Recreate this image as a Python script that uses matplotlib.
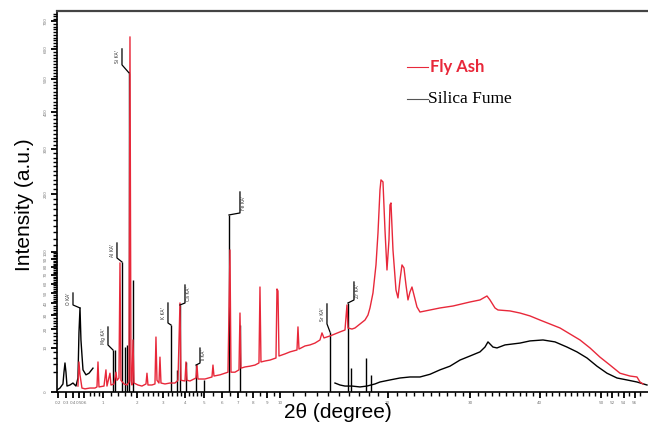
"""
XRD / EDS overlay: Fly Ash vs Silica Fume
"""
import numpy as np
import matplotlib
matplotlib.use('Agg')
import matplotlib.pyplot as plt
from matplotlib.lines import Line2D
from matplotlib.ticker import FixedLocator, FixedFormatter, NullFormatter
from matplotlib.transforms import IdentityTransform

# Fly Ash (red trace)
fa_x = [0.483, 0.500, 0.518, 0.553, 0.609, 0.708, 0.814, 0.859, 0.882, 0.905,
        1.025, 1.074, 1.100, 1.178, 1.205, 1.286, 1.342, 1.371, 1.428, 1.458,
        1.487, 1.578, 1.671, 1.735, 1.767, 1.800, 1.832, 1.866, 1.899, 2.036,
        2.177, 2.324, 2.361, 2.399, 2.552, 2.670, 2.710, 2.751, 2.832, 2.873,
        2.915, 3.084, 3.302, 3.527, 3.666, 3.760, 3.807, 4.000, 4.049, 4.098,
        4.248, 4.555, 4.607, 4.659, 5.035, 5.425, 5.482, 5.540, 5.890, 6.189,
        6.373, 6.496, 6.559, 6.811, 7.068, 7.133, 7.198, 7.462, 7.799, 8.143,
        8.424, 8.495, 8.566, 8.854, 9.221, 9.671, 9.747, 9.823, 9.900, 10.365,
        10.762, 11.329, 11.411, 11.494, 11.995, 12.421, 12.854, 13.295, 13.474, 13.654,
        14.200, 14.663, 15.134, 15.612, 15.805, 15.902, 16.294, 16.591, 17.091, 17.599,
        17.907, 18.114, 18.427, 18.743, 18.955, 19.168, 19.274, 19.489, 19.705, 19.922,
        20.140, 20.250, 20.360, 20.580, 20.914, 21.138, 21.363, 21.589, 21.816, 22.044,
        22.274, 22.505, 22.736, 22.970, 23.320, 23.676, 24.879, 26.109, 27.755, 29.982,
        31.333, 32.296, 32.713, 33.414, 33.838, 35.562, 37.032, 38.531, 40.060, 41.618,
        43.206, 44.824, 46.472, 48.150, 49.857, 51.594, 53.362, 55.157, 56.433, 56.985,
        57.535]
fa_y = [0.18, 4.6, 1.5, 0.08, 0.05, 0.08, 0.08, 0.13, 4.6, 0.13,
        0.18, 2.5, 0.18, 1.8, 0.25, 0.33, 2.0, 0.7, 1.0, 85.0,
        0.7, 0.33, 0.25, 0.5, 643.0, 0.7, 0.25, 13.8, 0.41, 0.25,
        0.18, 0.33, 1.8, 0.25, 0.25, 0.33, 15.4, 0.7, 0.41, 6.2,
        0.41, 0.33, 0.41, 0.41, 0.7, 40.4, 0.7, 0.62, 4.6, 0.7,
        0.62, 1.0, 3.7, 0.86, 0.86, 1.15, 3.7, 1.3, 1.5, 1.8,
        2.0, 102.9, 2.0, 2.0, 2.5, 31.8, 2.9, 3.2, 3.4, 3.7,
        4.3, 56.2, 4.6, 4.9, 5.2, 5.9, 54.1, 52.0, 6.6, 7.4,
        8.2, 9.0, 21.6, 9.4, 10.8, 11.3, 12.2, 13.8, 17.8, 14.9,
        16.0, 17.2, 18.4, 19.6, 38.6, 20.9, 20.2, 20.9, 23.6, 26.4,
        30.2, 36.0, 50.0, 82.3, 129.0, 208.2, 229.3, 225.0, 133.9, 75.9,
        117.9, 178.4, 182.2, 102.9, 53.1, 45.1, 64.0, 82.3, 78.4, 58.4,
        43.2, 51.0, 56.2, 48.0, 36.9, 32.6, 34.3, 36.0, 37.7, 41.3,
        43.2, 47.0, 43.2, 36.0, 34.3, 33.5, 31.8, 29.5, 26.4, 23.6,
        20.9, 17.2, 13.8, 9.9, 6.2, 3.7, 1.8, 1.3, 1.15, 0.51,
        0.33]

# Silica Fume - low energy part
sf_low_x = [0.193, 0.226, 0.262, 0.275, 0.288, 0.301, 0.315, 0.357, 0.402, 0.450,
            0.483, 0.500, 0.518, 0.535, 0.553, 0.572, 0.628, 0.688, 0.771]
sf_low_y = [0.02, 0.08, 0.33, 2.0, 4.3, 2.0, 0.18, 0.25, 0.41, 0.18,
            1.0, 17.8, 36.0, 13.8, 7.0, 2.5, 1.5, 1.8, 2.9]

# Silica Fume - broad hump
sf_x = [14.663, 15.134, 15.612, 16.294, 17.091, 17.804, 18.637, 19.168, 20.250, 21.363,
        22.505, 23.676, 24.879, 26.109, 27.370, 28.661, 29.982, 31.333, 32.020, 32.434,
        33.130, 33.697, 34.840, 37.032, 38.531, 40.526, 42.410, 44.335, 45.970, 47.643,
        49.340, 51.070, 52.830, 54.614, 56.433, 58.280]
sf_y = [0.41, 0.25, 0.18, 0.18, 0.13, 0.18, 0.33, 0.51, 0.74, 1.0,
        1.15, 1.15, 1.6, 2.5, 3.4, 5.2, 6.6, 8.2, 10.3, 12.8,
        10.3, 9.9, 11.3, 12.2, 13.3, 13.8, 12.8, 10.3, 8.2, 5.9,
        3.4, 1.8, 1.0, 0.74, 0.51, 0.25]

# Silica Fume - line spikes
spike_x = [1.259, 1.314, 1.517, 1.609, 1.671, 1.735, 1.866, 3.346, 3.619, 3.760,
           4.049, 4.555, 4.981, 6.434, 7.133, 14.200, 15.902, 16.196, 17.701, 18.218]
spike_y = [9.0, 9.0, 86.2, 10.3, 11.3, 519.2, 64.0, 22.9, 2.5, 38.6,
           4.6, 3.7, 0.74, 159.8, 22.9, 18.4, 40.4, 2.9, 5.9, 1.5]

# peak labels
peak_names = ["O KA'", "Mg KA'", "Al KA'", "Si KA'", "K KA'", "Ca KA'",
              "Ti KA'", "Fe KA'", "Sr KA'", "Zr KA'"]
peak_x = [0.518, 1.259, 1.517, 1.735, 3.346, 3.760, 4.555, 6.434, 14.200, 15.902]
peak_y = [36.0, 9.0, 86.2, 519.2, 22.9, 38.6, 3.7, 159.8, 18.4, 40.4]
# label bar layout in pixels: dx, bar bottom, bar top, text side
peak_layout = [(-7, 3, 15, -1), (-5, 5, 23, -1), (-5, 4, 19, -1), (-7, 8, 24, -1),
               (-3, 2, 22, -1), (5, 2, 20, 1), (4, 2, 17, 1), (11, 2, 23, 1),
               (-3, 8, 28, -1), (6, 3, 21, 1)]

x_major = [0.2, 0.3, 0.4, 0.5, 0.6, 1, 2, 3, 4, 5, 6, 7, 8, 9, 10,
           20, 30, 40, 50, 52, 54, 56]
y_major = [0, 10, 20, 30, 40, 50, 60, 70, 80, 90, 100, 200, 300, 400, 500, 600, 700]

RED = '#e8283a'


def fwd(v):
    return np.sqrt(np.clip(v, 0, None))


def inv(v):
    return np.asarray(v) ** 2


fig = plt.figure(figsize=(6.48, 4.25), dpi=100)
ax = fig.add_axes([57 / 648, 33 / 425, 591 / 648, 381 / 425])
ax.set_xscale('function', functions=(fwd, inv))
ax.set_yscale('function', functions=(fwd, inv))

ax.plot(fa_x, fa_y, color=RED, lw=1.0, zorder=3)
ax.plot(sf_low_x, sf_low_y, color='k', lw=1.0, zorder=2)
ax.plot(sf_x, sf_y, color='k', lw=1.0, zorder=2)
ax.vlines(spike_x, 0, spike_y, color='k', lw=1.0, zorder=2)

ax.set_xlim(0.193, 58.47)
ax.set_ylim(0, 740)

# ticks
x_minor = [0.7, 0.8, 0.9] + [round(1.2 + 0.2 * i, 1) for i in range(19)] + \
    [5.5, 6.5, 7.5, 8.5, 9.5] + list(range(11, 58))
x_minor = [v for v in x_minor if v not in x_major]
y_minor = [v for v in list(range(2, 100, 2)) + list(range(110, 740, 10)) if v not in y_major]

ax.xaxis.set_major_locator(FixedLocator(x_major))
ax.xaxis.set_major_formatter(FixedFormatter([str(v) for v in x_major]))
ax.xaxis.set_minor_locator(FixedLocator(x_minor))
ax.xaxis.set_minor_formatter(NullFormatter())
ax.yaxis.set_major_locator(FixedLocator(y_major))
ax.yaxis.set_major_formatter(FixedFormatter([str(v) for v in y_major]))
ax.yaxis.set_minor_locator(FixedLocator(y_minor))
ax.yaxis.set_minor_formatter(NullFormatter())
for lab in ax.get_yticklabels():
    lab.set_rotation(90)
    lab.set_va('center')

ax.tick_params(which='major', length=4.5, width=1.3, color='k', labelsize=3,
               labelcolor='#777777', pad=2)
ax.tick_params(which='minor', length=2.6, width=1.0, color='k')

ax.spines['right'].set_visible(False)
ax.spines['top'].set_linewidth(1.6)
ax.spines['top'].set_color('#444444')
ax.spines['left'].set_linewidth(1.2)
ax.spines['bottom'].set_linewidth(1.2)

# peak markers (drawn in pixel space)
for name, px, py, (dx, b0, b1, side) in zip(peak_names, peak_x, peak_y, peak_layout):
    x0, y0 = ax.transData.transform((px, py))
    bx = x0 + dx
    fig.add_artist(Line2D([x0, bx, bx], [y0, y0 + b0, y0 + b1], color='k', lw=0.9,
                          transform=IdentityTransform()))
    tx, ty = fig.transFigure.inverted().transform((bx + side * 4, y0 + (b0 + b1) / 2))
    fig.text(tx, ty, name, rotation=90, fontsize=3.3, ha='center', va='center', color='#333333')

# legend
fig.add_artist(Line2D([407 / 648, 428 / 648], [358 / 425, 358 / 425], color=RED, lw=0.8))
fig.text(430 / 648, 358 / 425, 'Fly Ash', color=RED, fontsize=12, fontweight='bold',
         family='Lato', va='center', ha='left')
fig.add_artist(Line2D([407 / 648, 428 / 648], [326 / 425, 326 / 425], color='#555555', lw=0.8))
fig.text(428 / 648, 326 / 425, 'Silica Fume', color='k', fontsize=12.5,
         family='Liberation Serif', va='center', ha='left')

fig.text(338 / 648, 12 / 425, '2θ (degree)', fontsize=15, family='Liberation Sans',
         ha='center', va='center')
fig.text(25 / 648, 220 / 425, 'Intensity (a.u.)', fontsize=15, family='Liberation Sans',
         rotation=90, ha='center', va='center')

fig.savefig('out.png', dpi=100)
